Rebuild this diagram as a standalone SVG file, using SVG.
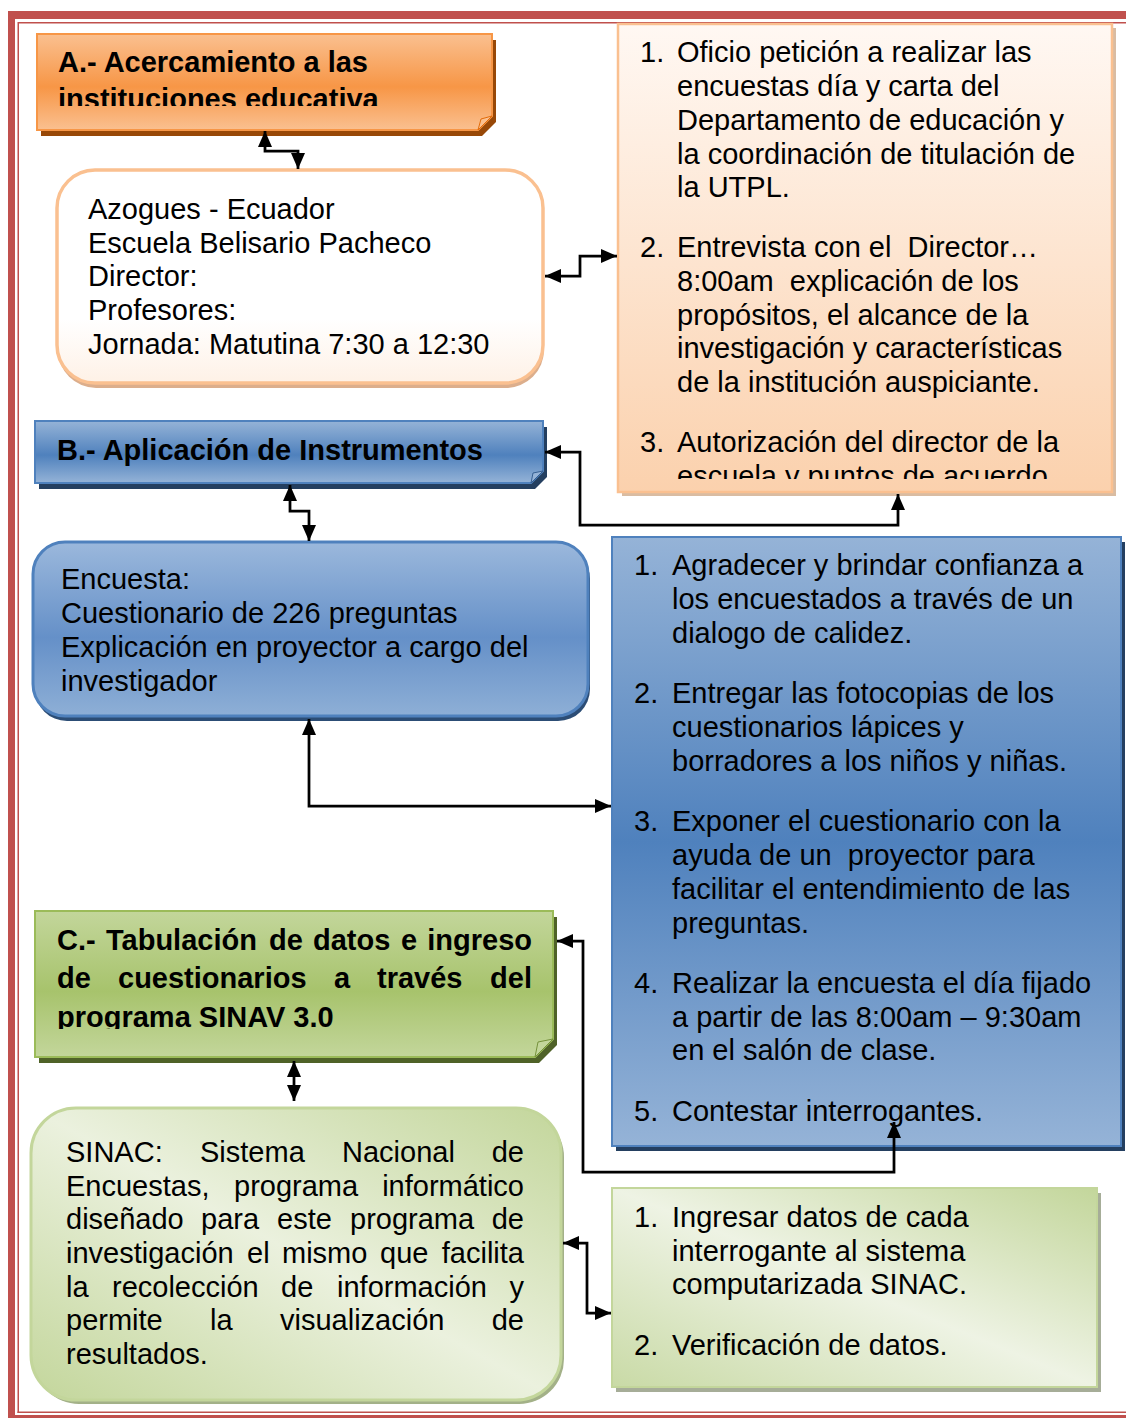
<svg xmlns="http://www.w3.org/2000/svg" width="1126" height="1418" viewBox="0 0 1126 1418">
<style>
text{font-family:"Liberation Sans",Arial,sans-serif;font-size:29px;fill:#000;white-space:pre}
.b{font-weight:bold}
.con{fill:none;stroke:#000;stroke-width:2.75;marker-start:url(#ah);marker-end:url(#ah)}
.brd{fill:#C0504D}
</style>
<defs>
<marker id="ah" viewBox="0 0 16 14" markerWidth="16" markerHeight="14" refX="16" refY="7" orient="auto-start-reverse" markerUnits="userSpaceOnUse"><path d="M0,0 L16,7 L0,14 Z" fill="#000"/></marker>
<linearGradient id="gOr" x1="0" y1="0" x2="0" y2="1"><stop offset="0" stop-color="#FAC090"/><stop offset="0.55" stop-color="#F79646"/><stop offset="1" stop-color="#FAC090"/></linearGradient>
<linearGradient id="gBl" x1="0" y1="0" x2="0" y2="1"><stop offset="0" stop-color="#95B3D7"/><stop offset="0.55" stop-color="#4F81BD"/><stop offset="1" stop-color="#95B3D7"/></linearGradient>
<linearGradient id="gGr" x1="0" y1="0" x2="0" y2="1"><stop offset="0" stop-color="#C3D69B"/><stop offset="0.55" stop-color="#A7C36C"/><stop offset="1" stop-color="#C3D69B"/></linearGradient>
<linearGradient id="gAbox" x1="0" y1="0" x2="0" y2="1"><stop offset="0" stop-color="#FFFFFF"/><stop offset="0.7" stop-color="#FFFFFF"/><stop offset="1" stop-color="#FEF1E6"/></linearGradient>
<linearGradient id="gAlist" x1="0" y1="0" x2="0" y2="1"><stop offset="0" stop-color="#FFF8F3"/><stop offset="1" stop-color="#FBD1AD"/></linearGradient>
<linearGradient id="gEnc" x1="0" y1="0" x2="0" y2="1"><stop offset="0" stop-color="#9BB8DC"/><stop offset="0.55" stop-color="#6590C8"/><stop offset="1" stop-color="#8EAFD6"/></linearGradient>
<linearGradient id="gBlist" x1="0" y1="0" x2="0" y2="1"><stop offset="0" stop-color="#95B3D7"/><stop offset="0.5" stop-color="#4F81BD"/><stop offset="1" stop-color="#95B3D7"/></linearGradient>
<linearGradient id="gGbox" x1="1" y1="0" x2="0" y2="1"><stop offset="0" stop-color="#C3D69B"/><stop offset="0.5" stop-color="#EBF1DE"/><stop offset="1" stop-color="#C3D69B"/></linearGradient>
<linearGradient id="gGlist" x1="1" y1="0" x2="0" y2="1"><stop offset="0" stop-color="#C3D69B"/><stop offset="0.5" stop-color="#EEF3E4"/><stop offset="1" stop-color="#C9DAA6"/></linearGradient>
<clipPath id="cA"><rect x="37" y="34" width="455" height="72"/></clipPath>
<clipPath id="cA3"><rect x="618" y="24" width="494" height="455"/></clipPath>
<clipPath id="cC"><rect x="35" y="911" width="518" height="118"/></clipPath>
</defs>
<rect width="1126" height="1418" fill="#FFFFFF"/>
<g id="border">
<rect class="brd" x="8" y="11" width="1118" height="8"/>
<rect class="brd" x="18" y="22" width="1108" height="1.5"/>
<rect class="brd" x="8" y="11" width="7" height="1407"/>
<rect class="brd" x="17.5" y="22" width="1.5" height="1391"/>
<rect class="brd" x="17.5" y="1411.5" width="1108.5" height="1.5"/>
<rect class="brd" x="8" y="1415" width="1118" height="3"/>
</g>
<g id="nodeA">
<path d="M41,40 H496 V122 L482,136 H41 Z" fill="#984807"/>
<path d="M37,34 H492 V116 L478,130 H37 Z" fill="url(#gOr)" stroke="#F79646" stroke-width="2"/>
<path d="M492,116 L478,130 L481,119 Z" fill="#FAC090" stroke="#E36C0A" stroke-width="1"/>
<g clip-path="url(#cA)"><text class="b" x="58" y="72">A.- Acercamiento a las</text><text class="b" x="58" y="109">instituciones educativa</text></g>
</g>
<g id="nodeAbox">
<rect x="58" y="175" width="486" height="213" rx="38" fill="#DCAE8C"/>
<rect x="57" y="170" width="486" height="213" rx="38" fill="url(#gAbox)" stroke="#FAC090" stroke-width="3.5"/>
<text x="88" y="219">Azogues - Ecuador</text>
<text x="88" y="253">Escuela Belisario Pacheco</text>
<text x="88" y="286">Director:</text>
<text x="88" y="320">Profesores:</text>
<text x="88" y="354">Jornada: Matutina 7:30 a 12:30</text>
</g>
<g id="nodeAlist">
<rect x="622" y="28" width="494" height="468" fill="#D9BCA2"/>
<rect x="618" y="24" width="494" height="468" fill="url(#gAlist)" stroke="#FAC090" stroke-width="2.5"/>
<text x="640" y="62">1.</text><text x="677" y="62">Oficio petición a realizar las</text>
<text x="677" y="96">encuestas día y carta del</text>
<text x="677" y="130">Departamento de educación y</text>
<text x="677" y="164">la coordinación de titulación de</text>
<text x="677" y="197">la UTPL.</text>
<text x="640" y="257">2.</text><text x="677" y="257">Entrevista con el  Director…</text>
<text x="677" y="291">8:00am  explicación de los</text>
<text x="677" y="325">propósitos, el alcance de la</text>
<text x="677" y="358">investigación y características</text>
<text x="677" y="392">de la institución auspiciante.</text>
<g clip-path="url(#cA3)"><text x="640" y="452">3.</text><text x="677" y="452">Autorización del director de la</text>
<text x="677" y="486">escuela y puntos de acuerdo</text></g>
</g>
<g id="nodeB">
<path d="M39,427 H547 V477 L535,489 H39 Z" fill="#243F60"/>
<path d="M35,421 H543 V471 L531,483 H35 Z" fill="url(#gBl)" stroke="#4F81BD" stroke-width="2"/>
<path d="M543,471 L531,483 L533,473 Z" fill="#95B3D7" stroke="#376092" stroke-width="1"/>
<text class="b" x="57" y="460">B.- Aplicación de Instrumentos</text>
</g>
<g id="nodeEnc">
<rect x="35" y="547" width="555" height="174" rx="32" fill="#2C4D75"/>
<rect x="33" y="542" width="555" height="174" rx="32" fill="url(#gEnc)" stroke="#4F81BD" stroke-width="3"/>
<text x="61" y="589">Encuesta:</text>
<text x="61" y="623">Cuestionario de 226 preguntas</text>
<text x="61" y="657">Explicación en proyector a cargo del</text>
<text x="61" y="691">investigador</text>
</g>
<g id="nodeBlist">
<rect x="616" y="542" width="509" height="609" fill="#243F60"/>
<rect x="612" y="537" width="509" height="609" fill="url(#gBlist)" stroke="#4F81BD" stroke-width="2"/>
<text x="634" y="575">1.</text><text x="672" y="575">Agradecer y brindar confianza a</text>
<text x="672" y="609">los encuestados a través de un</text>
<text x="672" y="643">dialogo de calidez.</text>
<text x="634" y="703">2.</text><text x="672" y="703">Entregar las fotocopias de los</text>
<text x="672" y="737">cuestionarios lápices y</text>
<text x="672" y="771">borradores a los niños y niñas.</text>
<text x="634" y="831">3.</text><text x="672" y="831">Exponer el cuestionario con la</text>
<text x="672" y="865">ayuda de un  proyector para</text>
<text x="672" y="899">facilitar el entendimiento de las</text>
<text x="672" y="933">preguntas.</text>
<text x="634" y="993">4.</text><text x="672" y="993">Realizar la encuesta el día fijado</text>
<text x="672" y="1027">a partir de las 8:00am – 9:30am</text>
<text x="672" y="1060">en el salón de clase.</text>
<text x="634" y="1121">5.</text><text x="672" y="1121">Contestar interrogantes.</text>
</g>
<g id="nodeC">
<path d="M39,917 H557 V1045 L539,1063 H39 Z" fill="#4F6228"/>
<path d="M35,911 H553 V1039 L535,1057 H35 Z" fill="url(#gGr)" stroke="#9BBB59" stroke-width="2"/>
<path d="M553,1039 L535,1057 L538,1042 Z" fill="#C3D69B" stroke="#76923C" stroke-width="1"/>
<text class="b" y="950"><tspan x="57">C.-</tspan><tspan x="106">Tabulación</tspan><tspan x="269">de</tspan><tspan x="313">datos</tspan><tspan x="401">e</tspan><tspan x="532" text-anchor="end">ingreso</tspan></text>
<text class="b" y="988"><tspan x="57">de</tspan><tspan x="118">cuestionarios</tspan><tspan x="334">a</tspan><tspan x="377">través</tspan><tspan x="532" text-anchor="end">del</tspan></text>
<g clip-path="url(#cC)"><text class="b" x="57" y="1027">programa SINAV 3.0</text></g>
</g>
<g id="nodeSinac">
<rect x="34" y="1112" width="530" height="292" rx="45" fill="#A3B188"/>
<rect x="31" y="1108" width="530" height="292" rx="45" fill="url(#gGbox)" stroke="#C3D69B" stroke-width="3"/>
<text y="1162"><tspan x="66">SINAC:</tspan><tspan x="200">Sistema</tspan><tspan x="342">Nacional</tspan><tspan x="524" text-anchor="end">de</tspan></text>
<text y="1196"><tspan x="66">Encuestas,</tspan><tspan x="234">programa</tspan><tspan x="524" text-anchor="end">informático</tspan></text>
<text y="1229"><tspan x="66">diseñado</tspan><tspan x="201">para</tspan><tspan x="277">este</tspan><tspan x="350">programa</tspan><tspan x="524" text-anchor="end">de</tspan></text>
<text y="1263"><tspan x="66">investigación</tspan><tspan x="247">el</tspan><tspan x="282">mismo</tspan><tspan x="380">que</tspan><tspan x="524" text-anchor="end">facilita</tspan></text>
<text y="1297"><tspan x="66">la</tspan><tspan x="112">recolección</tspan><tspan x="281">de</tspan><tspan x="337">información</tspan><tspan x="524" text-anchor="end">y</tspan></text>
<text y="1330"><tspan x="66">permite</tspan><tspan x="210">la</tspan><tspan x="280">visualización</tspan><tspan x="524" text-anchor="end">de</tspan></text>
<text x="66" y="1364">resultados.</text>
</g>
<g id="nodeGlist">
<rect x="616" y="1193" width="485" height="199" fill="#A6AD98"/>
<rect x="612" y="1188" width="485" height="199" fill="url(#gGlist)" stroke="#C3D69B" stroke-width="2"/>
<text x="634" y="1227">1.</text><text x="672" y="1227">Ingresar datos de cada</text>
<text x="672" y="1261">interrogante al sistema</text>
<text x="672" y="1294">computarizada SINAC.</text>
<text x="634" y="1355">2.</text><text x="672" y="1355">Verificación de datos.</text>
</g>
<g id="connectors">
<path class="con" d="M265,131 V151 H298 V169"/>
<path class="con" d="M545,276 H580 V256 H617"/>
<path class="con" d="M545,452 H580 V525 H898 V494"/>
<path class="con" d="M290,485 V511 H309 V541"/>
<path class="con" d="M309,719 V806 H611"/>
<path class="con" d="M557,941 H583 V1172 H894 V1122"/>
<path class="con" d="M294,1061 V1101"/>
<path class="con" d="M563,1243 H587 V1313 H611"/>
</g>
</svg>
